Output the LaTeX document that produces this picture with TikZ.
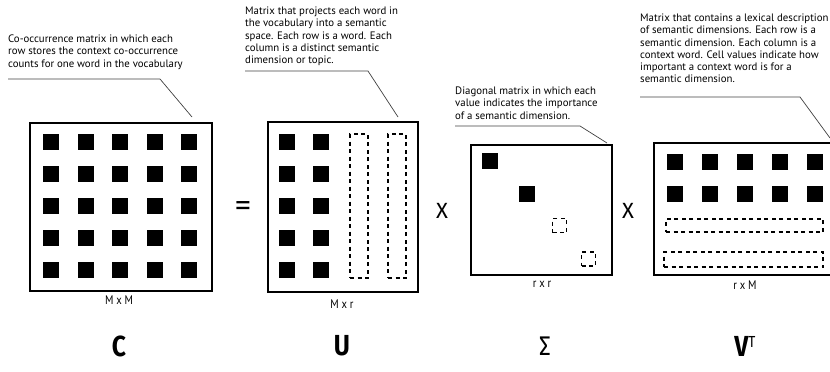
\documentclass[tikz,border=0pt]{standalone}
\usepackage{fontspec}
\setmainfont{PT Sans}
\newfontfamily\bigfont{Fira Sans}
\begin{document}
\begin{tikzpicture}[x=1pt,y=-1pt,
  mbox/.style={draw, line width=1.9pt, inner sep=0pt},
  cell/.style={fill=black, inner sep=0pt, minimum size=16pt},
  dcell/.style={draw, line width=1.5pt, dash pattern=on 4pt off 3.5pt, inner sep=0pt},
  note/.style={align=left, anchor=north west, inner sep=0pt, font=\fontsize{10.8}{12.1}\selectfont},
  lead/.style={draw=black!75, line width=0.7pt},
  dimlab/.style={font=\fontsize{12.5}{13}\selectfont, xscale=0.85},
  biglab/.style={font=\bigfont\bfseries\fontsize{29}{30}\selectfont, xscale=0.85},
  sigmalab/.style={font=\bigfont\fontsize{27}{30}\selectfont, xscale=0.85},
  oplab/.style={font=\bigfont\fontsize{22}{24}\selectfont},
  eqlab/.style={font=\bigfont\fontsize{30}{30}\selectfont, xscale=1.15}]
\useasboundingbox (0,0) rectangle (830,372);
\clip (0,0) rectangle (830,372);

% ---- C ----
\node[mbox, minimum width=182pt, minimum height=168pt] (C) at (121,207) {};
\foreach \i in {0,...,4}{\foreach \j in {0,...,4}{
  \node[cell] (c\i\j) at (51+34.6*\i, 141.5+32.2*\j) {};}}
\node[dimlab] (Clab) at (119,300) {M x M};
\node[biglab] (Cbig) at (119,346) {C};
\node[note] (Cnote) at (8,35) {Co-occurrence matrix in which each\\row stores the context co-occurrence\\counts for one word in the vocabulary};
\coordinate (ca) at (8,79);
\coordinate (cb) at (160,79);
\coordinate (cc) at (192,117);
\draw[lead] (ca) -- (cb) -- (cc);

\node[eqlab] (eq) at (243,209) {=};

% ---- U ----
\node[mbox, minimum width=150pt, minimum height=170pt] (U) at (343,207) {};
\foreach \i in {0,1}{\foreach \j in {0,...,4}{
  \node[cell] (u\i\j) at (287+34*\i, 141.5+32.2*\j) {};}}
\node[dcell, minimum width=18pt, minimum height=144pt] (ud1) at (359,206) {};
\node[dcell, minimum width=18pt, minimum height=144pt] (ud2) at (397,206) {};
\node[dimlab] (Ulab) at (342,304) {M x r};
\node[biglab] (Ubig) at (342,346) {U};
\node[note] (Unote) at (245,7) {Matrix that projects each word in\\the vocabulary into a semantic\\space. Each row is a word. Each\\column is a distinct semantic\\dimension or topic.};
\coordinate (ua) at (245,71);
\coordinate (ub) at (368,71);
\coordinate (uc) at (398,117);
\draw[lead] (ua) -- (ub) -- (uc);

\node[oplab] (x1) at (442,211) {X};

% ---- Sigma ----
\node[mbox, minimum width=141pt, minimum height=130pt] (S) at (541.5,210) {};
\node[cell] (s1) at (490,161) {};
\node[cell] (s2) at (527,194) {};
\node[dcell, minimum size=14pt] (s3) at (559.5,225.5) {};
\node[dcell, minimum size=14pt] (s4) at (588.5,259) {};
\node[dimlab] (Slab) at (542,284) {r x r};
\node[sigmalab] (Sbig) at (545,346) {Σ};
\node[note] (Snote) at (455,87) {Diagonal matrix in which each\\value indicates the importance\\of a semantic dimension.};
\coordinate (sa) at (455,126);
\coordinate (sb) at (580,126);
\coordinate (sc) at (607,143);
\draw[lead] (sa) -- (sb) -- (sc);

\node[oplab] (x2) at (628,211) {X};

% ---- V^T ----
\node[mbox, minimum width=190pt, minimum height=132pt] (V) at (749,209) {};
\foreach \i in {0,...,4}{\foreach \j in {0,1}{
  \node[cell] (v\i\j) at (675+34.9*\i, 161.5+32.5*\j) {};}}
\node[dcell, minimum width=157pt, minimum height=13pt] (vd1) at (744.5,225.5) {};
\node[dcell, minimum width=159pt, minimum height=15pt] (vd2) at (743.5,259.5) {};
\node[dimlab] (Vlab) at (745,285) {r x M};
\node[biglab] (Vbig) at (745,346) {V\textsuperscript{\mdseries\fontsize{16}{16}\selectfont T}};
\node[note] (Vnote) at (640,14) {Matrix that contains a lexical description\\of semantic dimensions. Each row is a\\semantic dimension. Each column is a\\context word. Cell values indicate how\\important a context word is for a\\semantic dimension.};
\coordinate (va) at (640,97);
\coordinate (vb) at (800,97);
\coordinate (vc) at (830,138);
\draw[lead] (va) -- (vb) -- (vc);
\end{tikzpicture}
\end{document}
